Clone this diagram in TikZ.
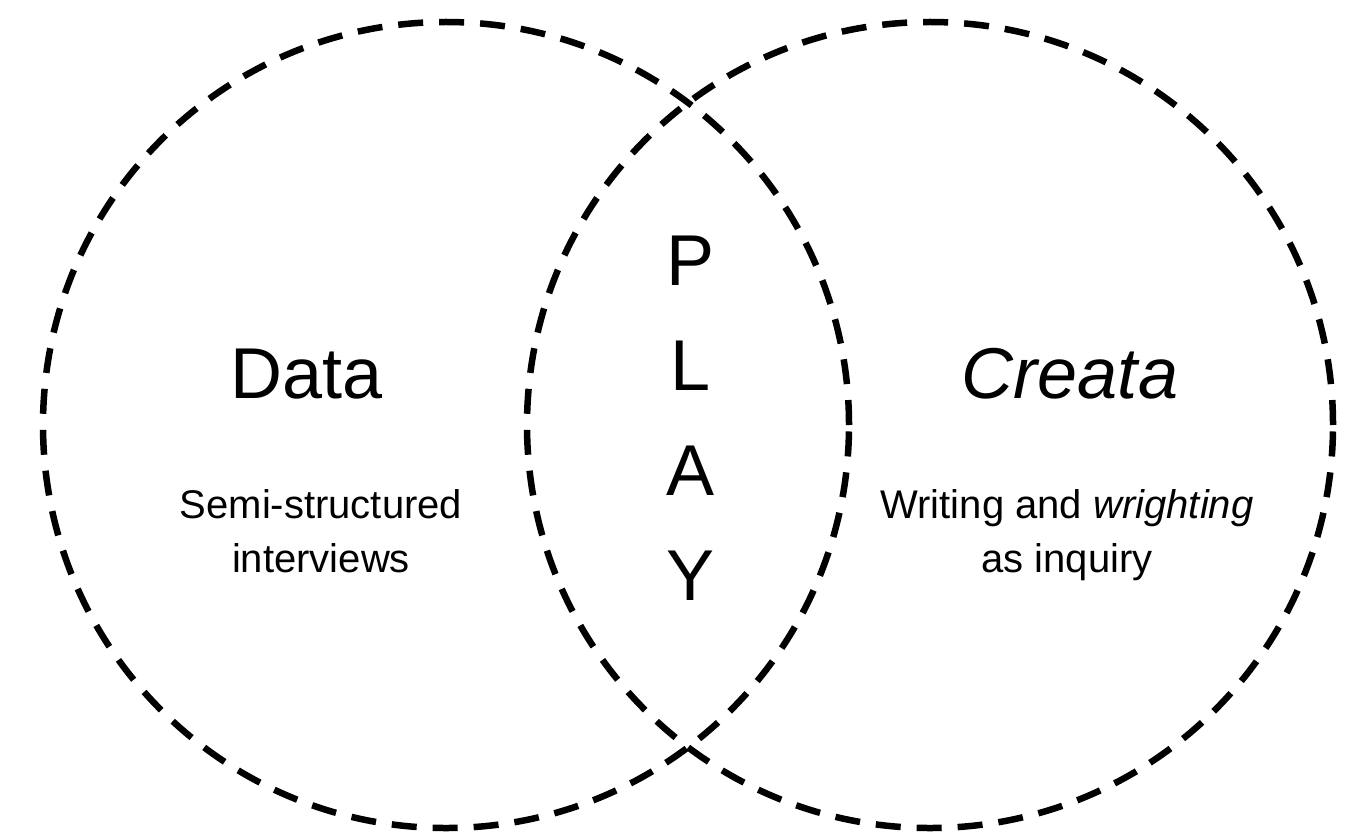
\documentclass[tikz,border=0pt]{standalone}
\usepackage{fontspec}
\setmainfont{Liberation Sans}
\begin{document}
\begin{tikzpicture}[x=1bp,y=-1bp,
  ring/.style={draw=black, line width=6.5bp, dash pattern=on 25bp off 16bp},
  bigtext/.style={font=\fontsize{72bp}{86bp}\selectfont, inner sep=0pt},
  smalltext/.style={font=\fontsize{40bp}{54bp}\selectfont, align=center, inner sep=0pt},
  playtext/.style={font=\fontsize{72bp}{105bp}\selectfont, align=center, inner sep=0pt}]
  \useasboundingbox (0,0) rectangle (1361,837);
  % the two overlapping sets
  \node[ring, circle, minimum size=806bp, inner sep=0pt] (left) at (446,425) {};
  \node[ring, circle, minimum size=806bp, inner sep=0pt] (right) at (930,425) {};
  % left set (base anchor sits on the last line's baseline)
  \node[bigtext, anchor=base] (data) at (307,398) {Data};
  \node[smalltext, anchor=base] (datasub) at (321,572) {Semi-structured\\interviews};
  % right set
  \node[bigtext, anchor=base] (creata) at (1070,398) {\itshape Creata};
  \node[smalltext, anchor=base] (creatasub) at (1067,572) {Writing and \textit{wrighting}\\as inquiry};
  % overlap
  \node[playtext, anchor=base] (play) at (691,600) {P\\L\\A\\Y};
\end{tikzpicture}
\end{document}
